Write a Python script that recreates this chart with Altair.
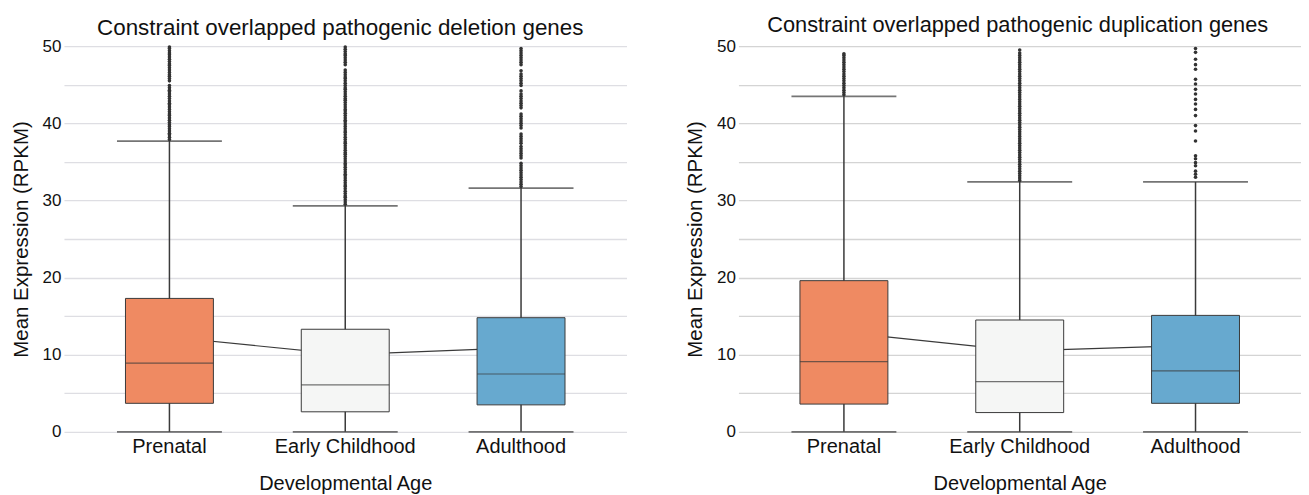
import altair as alt
import pandas as pd

cats = ["Prenatal", "Early Childhood", "Adulthood"]
colors = ["#ef8a62", "#f5f6f5", "#67a9cf"]
y_ticks = [0, 5, 10, 15, 20, 25, 30, 35, 40, 45, 50]

# Deletion genes panel
del_q1 = [3.7, 2.6, 3.5]
del_median = [8.9, 6.1, 7.5]
del_q3 = [17.3, 13.3, 14.8]
del_lo = [0.0, 0.0, 0.0]
del_hi = [37.7, 29.3, 31.6]
del_mean = [12.3, 10.0, 10.9]
del_out_pre = [37.9, 38.2, 38.5, 38.7, 39.0, 39.3, 39.6, 39.8, 40.1, 40.4, 40.7, 41.0, 41.2, 41.5,
               41.8, 42.1, 42.4, 42.6, 42.9, 43.2, 43.5, 43.8, 44.1, 44.3, 44.6, 44.9, 45.5, 45.8,
               46.1, 46.3, 46.6, 46.9, 47.2, 47.5, 47.7, 48.0, 48.3, 48.6, 48.9, 49.1, 49.4, 49.7, 49.9]
del_out_ec = [29.5, 29.8, 30.1, 30.4, 30.6, 30.9, 31.2, 31.5, 31.8, 32.0, 32.3, 32.6, 32.9, 33.2,
              33.4, 33.7, 34.0, 34.3, 34.6, 34.8, 35.1, 35.4, 35.7, 36.0, 36.2, 36.5, 36.8, 37.1,
              37.4, 37.6, 37.9, 38.2, 38.5, 38.8, 39.0, 39.3, 39.6, 39.9, 40.2, 40.4, 40.7, 41.0,
              41.3, 41.6, 41.8, 42.1, 42.4, 42.7, 43.0, 43.2, 43.5, 43.8, 44.1, 44.4, 44.6, 44.9,
              45.2, 45.5, 45.8, 46.0, 46.3, 46.6, 46.9, 47.6, 47.9, 48.2, 48.5, 48.8, 49.0, 49.3,
              49.6, 49.9]
del_out_ad = [31.8, 32.1, 32.4, 32.7, 33.0, 33.3, 33.6, 33.9, 34.2, 34.5, 34.8, 35.5, 35.8, 36.1,
              36.4, 36.7, 37.0, 37.4, 37.7, 38.0, 38.3, 38.6, 39.4, 39.7, 40.0, 40.3, 40.6, 40.9,
              41.2, 42.0, 42.3, 42.6, 42.9, 43.2, 43.5, 43.8, 44.2, 44.9, 45.2, 45.5, 45.8, 46.1,
              46.4, 46.8, 47.6, 47.9, 48.2, 48.5, 48.8, 49.1, 49.4, 49.7]

# Duplication genes panel
dup_q1 = [3.6, 2.5, 3.7]
dup_median = [9.1, 6.5, 7.9]
dup_q3 = [19.6, 14.5, 15.1]
dup_lo = [0.0, 0.0, 0.0]
dup_hi = [43.5, 32.4, 32.4]
dup_mean = [12.9, 10.5, 11.2]
dup_out_pre = [43.7, 44.0, 44.3, 44.6, 44.9, 45.2, 45.5, 45.8, 46.1, 46.4, 46.7, 47.0, 47.3, 47.6,
               47.9, 48.2, 48.5, 48.8, 49.0]
dup_out_ec = [32.6, 32.9, 33.2, 33.5, 33.8, 34.1, 34.4, 34.7, 35.0, 35.3, 35.6, 35.9, 36.2, 36.5,
              36.8, 37.1, 37.4, 37.7, 38.0, 38.3, 38.6, 38.9, 39.2, 39.5, 39.8, 40.1, 40.4, 40.7,
              41.0, 41.3, 41.6, 41.9, 42.2, 42.5, 42.8, 43.1, 43.4, 43.7, 44.0, 44.3, 44.6, 44.9,
              45.2, 45.5, 45.8, 46.1, 46.4, 46.7, 47.0, 47.3, 47.6, 47.9, 48.2, 48.5, 48.8, 49.1, 49.5]
dup_out_ad = [33.0, 33.4, 33.8, 34.5, 34.9, 35.4, 35.8, 37.7, 39.0, 39.7, 41.0, 41.8, 42.5, 43.1,
              43.8, 44.4, 45.1, 45.7, 47.0, 47.6, 48.3, 49.2, 49.7]

FONT = "Liberation Sans"
DARK = "#3a3a3a"


def panel(title, q1, med, q3, lo, hi, mean, outs, grid_color, title_size, title_dx, title_offset):
    stats = pd.DataFrame({"cat": cats, "q1": q1, "med": med, "q3": q3,
                          "lo": lo, "hi": hi, "mean": mean})
    rows = []
    for c, vals in zip(cats, outs):
        for v in vals:
            rows.append({"cat": c, "v": v})
    outdf = pd.DataFrame(rows)

    xenc = alt.X("cat:N", sort=cats,
                 scale=alt.Scale(domain=cats, paddingInner=0, paddingOuter=0.1),
                 axis=alt.Axis(title="Developmental Age", labelAngle=0, domain=False, ticks=False,
                               grid=False, labelFontSize=20, titleFontSize=20,
                               labelPadding=5, titlePadding=17, labelColor="#111",
                               titleColor="#111", labelFont=FONT, titleFont=FONT,
                               titleFontWeight="normal"))
    yscale = alt.Scale(domain=[0, 50], nice=False)
    yaxis = alt.Axis(title="Mean Expression (RPKM)", values=y_ticks,
                     labelExpr="datum.value % 10 == 0 ? datum.label : ''",
                     domain=False, ticks=False, grid=True, gridColor=grid_color, gridWidth=1.3,
                     labelFontSize=17, titleFontSize=20.5, labelPadding=3, titlePadding=11,
                     labelColor="#111", titleColor="#111", labelFont=FONT, titleFont=FONT,
                     titleFontWeight="normal")

    def Y(field):
        return alt.Y(f"{field}:Q", scale=yscale, axis=yaxis)

    base = alt.Chart(stats)
    mean_line = base.mark_line(color=DARK, strokeWidth=1.2).encode(x=xenc, y=Y("mean"))
    whisk = base.mark_rule(color=DARK, strokeWidth=1.5).encode(x=xenc, y=Y("lo"), y2="hi:Q")
    box = base.mark_bar(size=88, stroke=DARK, strokeWidth=1).encode(
        x=xenc, y=Y("q1"), y2="q3:Q",
        color=alt.Color("cat:N", scale=alt.Scale(domain=cats, range=colors), legend=None))
    median = base.mark_tick(size=88, thickness=1.2, color=DARK).encode(x=xenc, y=Y("med"))
    cap_hi = base.mark_tick(size=105, thickness=1.8, color=DARK).encode(x=xenc, y=Y("hi"))
    cap_lo = base.mark_tick(size=105, thickness=1.8, color=DARK).encode(x=xenc, y=Y("lo"))
    pts = alt.Chart(outdf).mark_circle(size=13, color="#333333", opacity=1).encode(
        x=xenc, y=Y("v"))

    return alt.layer(mean_line, whisk, box, median, cap_hi, cap_lo, pts).properties(
        width=563, height=386,
        title=alt.TitleParams(title, fontSize=title_size, font=FONT, fontWeight="normal",
                              color="#111", anchor="middle", offset=title_offset, dx=title_dx))


left = panel("Constraint overlapped pathogenic deletion genes",
             del_q1, del_median, del_q3, del_lo, del_hi, del_mean,
             [del_out_pre, del_out_ec, del_out_ad], "#dedee3", 22.4, -5, -2)
right = panel("Constraint overlapped pathogenic duplication genes",
              dup_q1, dup_median, dup_q3, dup_lo, dup_hi, dup_mean,
              [dup_out_pre, dup_out_ec, dup_out_ad], "#d4d4d4", 21.8, -2, 0)

chart = alt.hconcat(left, right, spacing=59).properties(
    padding={"left": 3, "top": 7, "right": 0, "bottom": 0}
).configure(font=FONT, background="white").configure_view(stroke=None)

chart.save("out.html", embed_options={"renderer": "svg", "actions": False})
